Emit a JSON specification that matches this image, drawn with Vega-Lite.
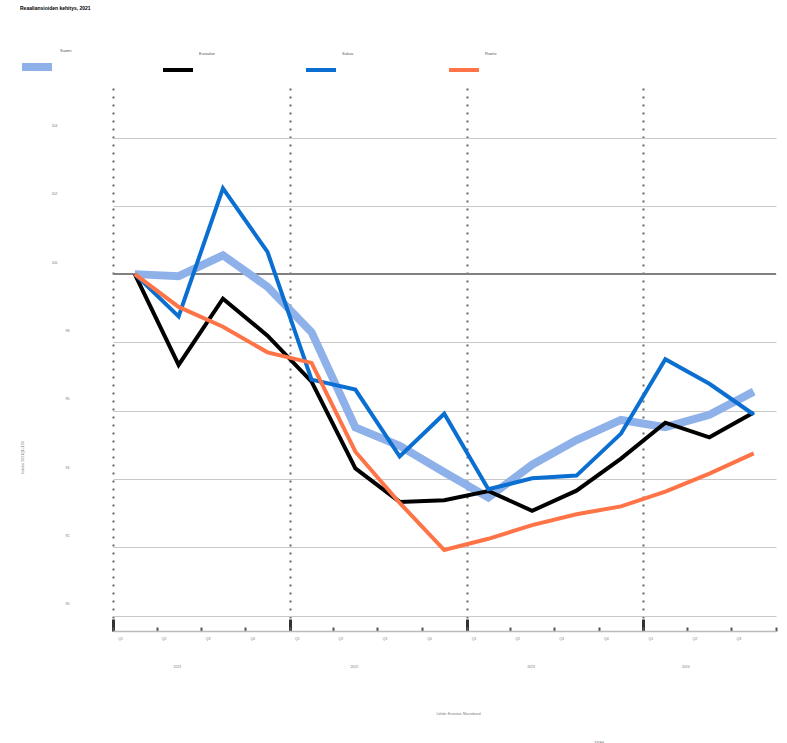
{
  "$schema": "https://vega.github.io/schema/vega-lite/v6.json",
  "width": 663,
  "height": 543,
  "autosize": {"type": "none"},
  "padding": {"left": 113, "top": 88, "right": 11, "bottom": 112},
  "background": "white",
  "config": {"view": {"stroke": null}, "font": "Liberation Sans"},
  "title": {"text": "Reaaliansioiden kehitys, 2021", "anchor": "start", "frame": "group", "fontSize": 5, "fontWeight": "bold", "color": "#000", "dx": -93, "offset": 35, "baseline": "middle"},
  "data": {"values": [
    {"q": "2021-01-01", "maa": "Suomi", "arvo": 100},
    {"q": "2021-04-01", "maa": "Suomi", "arvo": 99.94},
    {"q": "2021-07-01", "maa": "Suomi", "arvo": 100.55},
    {"q": "2021-10-01", "maa": "Suomi", "arvo": 99.63},
    {"q": "2022-01-01", "maa": "Suomi", "arvo": 98.3},
    {"q": "2022-04-01", "maa": "Suomi", "arvo": 95.51},
    {"q": "2022-07-01", "maa": "Suomi", "arvo": 94.97},
    {"q": "2022-10-01", "maa": "Suomi", "arvo": 94.2},
    {"q": "2023-01-01", "maa": "Suomi", "arvo": 93.46},
    {"q": "2023-04-01", "maa": "Suomi", "arvo": 94.42},
    {"q": "2023-07-01", "maa": "Suomi", "arvo": 95.14},
    {"q": "2023-10-01", "maa": "Suomi", "arvo": 95.73},
    {"q": "2024-01-01", "maa": "Suomi", "arvo": 95.52},
    {"q": "2024-04-01", "maa": "Suomi", "arvo": 95.88},
    {"q": "2024-07-01", "maa": "Suomi", "arvo": 96.56},
    {"q": "2021-01-01", "maa": "Euroalue", "arvo": 100},
    {"q": "2021-04-01", "maa": "Euroalue", "arvo": 97.34},
    {"q": "2021-07-01", "maa": "Euroalue", "arvo": 99.28},
    {"q": "2021-10-01", "maa": "Euroalue", "arvo": 98.2},
    {"q": "2022-01-01", "maa": "Euroalue", "arvo": 96.85},
    {"q": "2022-04-01", "maa": "Euroalue", "arvo": 94.31},
    {"q": "2022-07-01", "maa": "Euroalue", "arvo": 93.33},
    {"q": "2022-10-01", "maa": "Euroalue", "arvo": 93.38},
    {"q": "2023-01-01", "maa": "Euroalue", "arvo": 93.65},
    {"q": "2023-04-01", "maa": "Euroalue", "arvo": 93.07},
    {"q": "2023-07-01", "maa": "Euroalue", "arvo": 93.66},
    {"q": "2023-10-01", "maa": "Euroalue", "arvo": 94.6},
    {"q": "2024-01-01", "maa": "Euroalue", "arvo": 95.65},
    {"q": "2024-04-01", "maa": "Euroalue", "arvo": 95.22},
    {"q": "2024-07-01", "maa": "Euroalue", "arvo": 95.95},
    {"q": "2021-01-01", "maa": "Saksa", "arvo": 100},
    {"q": "2021-04-01", "maa": "Saksa", "arvo": 98.76},
    {"q": "2021-07-01", "maa": "Saksa", "arvo": 102.51},
    {"q": "2021-10-01", "maa": "Saksa", "arvo": 100.65},
    {"q": "2022-01-01", "maa": "Saksa", "arvo": 96.91},
    {"q": "2022-04-01", "maa": "Saksa", "arvo": 96.62},
    {"q": "2022-07-01", "maa": "Saksa", "arvo": 94.66},
    {"q": "2022-10-01", "maa": "Saksa", "arvo": 95.91},
    {"q": "2023-01-01", "maa": "Saksa", "arvo": 93.7},
    {"q": "2023-04-01", "maa": "Saksa", "arvo": 94.02},
    {"q": "2023-07-01", "maa": "Saksa", "arvo": 94.1},
    {"q": "2023-10-01", "maa": "Saksa", "arvo": 95.33},
    {"q": "2024-01-01", "maa": "Saksa", "arvo": 97.51},
    {"q": "2024-04-01", "maa": "Saksa", "arvo": 96.79},
    {"q": "2024-07-01", "maa": "Saksa", "arvo": 95.89},
    {"q": "2021-01-01", "maa": "Ruotsi", "arvo": 100},
    {"q": "2021-04-01", "maa": "Ruotsi", "arvo": 99.04},
    {"q": "2021-07-01", "maa": "Ruotsi", "arvo": 98.46},
    {"q": "2021-10-01", "maa": "Ruotsi", "arvo": 97.71},
    {"q": "2022-01-01", "maa": "Ruotsi", "arvo": 97.4},
    {"q": "2022-04-01", "maa": "Ruotsi", "arvo": 94.8},
    {"q": "2022-07-01", "maa": "Ruotsi", "arvo": 93.3},
    {"q": "2022-10-01", "maa": "Ruotsi", "arvo": 91.92},
    {"q": "2023-01-01", "maa": "Ruotsi", "arvo": 92.25},
    {"q": "2023-04-01", "maa": "Ruotsi", "arvo": 92.65},
    {"q": "2023-07-01", "maa": "Ruotsi", "arvo": 92.97},
    {"q": "2023-10-01", "maa": "Ruotsi", "arvo": 93.2},
    {"q": "2024-01-01", "maa": "Ruotsi", "arvo": 93.63},
    {"q": "2024-04-01", "maa": "Ruotsi", "arvo": 94.16},
    {"q": "2024-07-01", "maa": "Ruotsi", "arvo": 94.75}
  ]},
  "layer": [
    {
      "data": {"values": [{}]},
      "mark": {"type": "rule", "color": "#808080", "strokeWidth": 2},
      "encoding": {
        "x": {
          "datum": {"year": 2021, "month": 1, "date": 1, "utc": true},
          "type": "temporal",
          "scale": {"type": "utc", "domain": [{"year": 2021, "month": 1, "date": 1, "utc": true}, {"year": 2024, "month": 10, "date": 1, "utc": true}]},
          "axis": {
            "orient": "bottom",
            "tickCount": {"interval": "year", "step": 1},
            "labelExpr": "utcFormat(datum.value, '%Y')",
            "tickSize": -12, "tickWidth": 3, "tickColor": "#333",
            "labelOffset": {"condition": {"test": "utcyear(datum.value) == 2024", "value": 42}, "value": 64},
            "labelPadding": 47, "labelFontSize": 3.5, "labelColor": "#777", "labelAlign": "center", "labelBaseline": "middle",
            "labelFlush": false, "labelOverlap": false, "labelBound": false,
            "grid": true, "gridDash": [2, 6], "gridColor": "#666", "gridWidth": 2,
            "domain": false,
            "title": "SP/EK", "titleFontSize": 3.5, "titleColor": "#777", "titleFontWeight": "normal",
            "titleX": 486, "titleY": 111, "titleAlign": "center", "titleBaseline": "middle"
          }
        },
        "x2": {"datum": {"year": 2024, "month": 10, "date": 1, "utc": true}},
        "y": {"datum": 100, "type": "quantitative", "axis": null}
      }
    },
    {
      "mark": {"type": "line", "strokeCap": "butt"},
      "encoding": {
        "x": {
          "field": "q", "type": "temporal", "timeUnit": "utcyearquarter", "bandPosition": 0.5,
          "scale": {"type": "utc", "domain": [{"year": 2021, "month": 1, "date": 1, "utc": true}, {"year": 2024, "month": 10, "date": 1, "utc": true}]},
          "axis": {
            "orient": "bottom",
            "tickCount": {"interval": "month", "step": 3},
            "labelExpr": "(utcyear(datum.value) == 2024 && utcmonth(datum.value) == 9) ? '' : 'Q' + (floor(utcmonth(datum.value) / 3) + 1)",
            "tickSize": -4, "tickWidth": 2, "tickColor": "#555",
            "labelOffset": 7, "labelPadding": 11, "labelFontSize": 3.5, "labelColor": "#777", "labelAlign": "center", "labelBaseline": "middle",
            "labelFlush": false, "labelOverlap": false, "labelBound": false,
            "grid": false,
            "domain": true, "domainColor": "#bbb", "domainWidth": 1.5,
            "title": "Lähde: Eurostat, Macrobond", "titleFontSize": 3.5, "titleColor": "#777", "titleFontWeight": "normal",
            "titleX": 345, "titleY": 82, "titleAlign": "center", "titleBaseline": "middle"
          }
        },
        "y": {
          "field": "arvo", "type": "quantitative",
          "scale": {"domain": [89.55, 105.45], "zero": false, "nice": false},
          "axis": {
            "values": [90, 92, 94, 96, 98, 100, 102, 104],
            "grid": true, "gridColor": "#c8c8c8", "gridWidth": 1.2,
            "ticks": false, "domain": false,
            "labelFontSize": 3.5, "labelColor": "#777", "labelAlign": "right", "labelBaseline": "middle", "labelOffset": -12,
            "labelPadding": {"condition": {"test": "datum.value >= 100", "value": 56}, "value": 44},
            "title": "Indeksi 2021Q1=100", "titleFontSize": 3.5, "titleColor": "#777", "titleFontWeight": "normal",
            "titleX": -91, "titleY": 369, "titleAlign": "center", "titleBaseline": "middle"
          }
        },
        "color": {
          "field": "maa", "type": "nominal",
          "scale": {"domain": ["Suomi", "Euroalue", "Saksa", "Ruotsi"], "range": ["#8fb1e9", "#000000", "#0a6fd0", "#ff7447"]},
          "legend": {
            "orient": "none", "legendX": -95, "legendY": -40, "direction": "horizontal", "title": null,
            "symbolType": "stroke", "symbolSize": 900, "labelFontSize": 4, "labelColor": "#555", "labelOffset": 4,
            "columnPadding": 82, "gridAlign": "all",
            "encode": {"labels": {"update": {"dy": {"value": -16}}}}
          }
        },
        "strokeWidth": {
          "field": "maa", "type": "nominal",
          "scale": {"type": "ordinal", "domain": ["Suomi", "Euroalue", "Saksa", "Ruotsi"], "range": [8, 4, 4, 4]},
          "legend": {
            "orient": "none", "legendX": -95, "legendY": -40, "direction": "horizontal", "title": null,
            "symbolType": "stroke", "symbolSize": 900, "labelFontSize": 4, "labelColor": "#555", "labelOffset": 4,
            "columnPadding": 82, "gridAlign": "all",
            "encode": {"labels": {"update": {"dy": {"value": -16}}}}
          }
        }
      }
    }
  ],
  "resolve": {"axis": {"x": "independent", "y": "independent"}}
}
